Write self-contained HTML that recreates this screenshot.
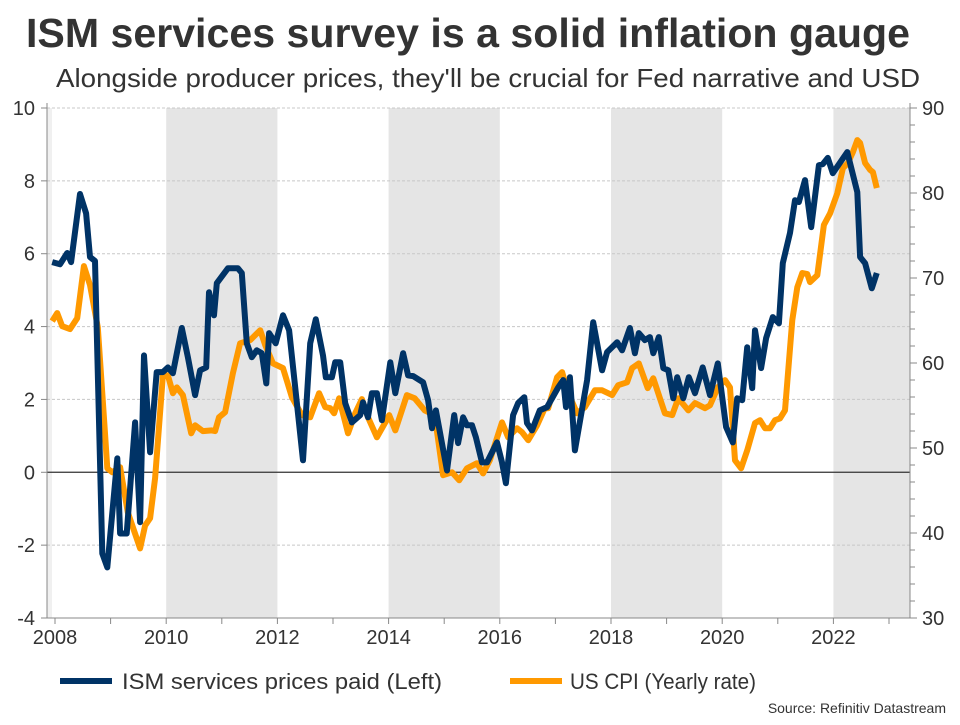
<!DOCTYPE html>
<html><head><meta charset="utf-8"><style>
body{margin:0;background:#fff;}
svg text{font-family:"Liberation Sans",sans-serif;}
</style></head><body>
<svg width="960" height="720" xmlns="http://www.w3.org/2000/svg">
<text x="468" y="47" text-anchor="middle" font-size="41" font-weight="bold" fill="#333" textLength="884" lengthAdjust="spacingAndGlyphs">ISM services survey is a solid inflation gauge</text>
<text x="488" y="87" text-anchor="middle" font-size="26" fill="#333" textLength="864" lengthAdjust="spacingAndGlyphs">Alongside producer prices, they'll be crucial for Fed narrative and USD</text>
<g id="bands"></g><g id="grid"></g><g id="axes"></g>
<g id="series" clip-path="url(#clip)"></g>
<defs><clipPath id="clip"><rect x="47" y="100" width="863" height="518"/></clipPath></defs>
<g>
<line x1="60" y1="681" x2="112" y2="681" stroke="#003366" stroke-width="6"/>
<text x="122" y="689" font-size="22" fill="#333" textLength="320" lengthAdjust="spacingAndGlyphs">ISM services prices paid (Left)</text>
<line x1="510" y1="681" x2="562" y2="681" stroke="#ff9900" stroke-width="6"/>
<text x="570" y="689" font-size="22" fill="#333" textLength="186" lengthAdjust="spacingAndGlyphs">US CPI (Yearly rate)</text>
</g>
<text x="946" y="713" text-anchor="end" font-size="14" fill="#333">Source: Refinitiv Datastream</text>
</svg>
<script>
const xTicks=[2008,2010,2012,2014,2016,2018,2020,2022];
const yLeftTicks=[-4,-2,0,2,4,6,8,10];
const yRightTicks=[30,40,50,60,70,80,90];
const bandStarts=[2010,2014,2018,2022];
const ismDates=[2007.95,2008.09,2008.22,2008.29,2008.45,2008.56,2008.63,2008.72,2008.85,2008.94,2009.12,2009.17,2009.29,2009.44,2009.53,2009.60,2009.71,2009.83,2009.94,2010.03,2010.12,2010.28,2010.39,2010.52,2010.61,2010.72,2010.77,2010.86,2010.91,2011.11,2011.29,2011.36,2011.45,2011.54,2011.63,2011.72,2011.80,2011.85,2011.97,2012.10,2012.21,2012.46,2012.59,2012.69,2012.82,2012.87,2012.98,2013.04,2013.13,2013.22,2013.34,2013.49,2013.54,2013.63,2013.70,2013.79,2013.88,2014.03,2014.12,2014.26,2014.35,2014.44,2014.62,2014.71,2014.78,2014.85,2015.05,2015.18,2015.25,2015.34,2015.41,2015.50,2015.57,2015.68,2015.77,2015.95,2016.04,2016.11,2016.24,2016.33,2016.44,2016.49,2016.58,2016.72,2016.85,2017.05,2017.14,2017.19,2017.26,2017.35,2017.57,2017.68,2017.84,2017.93,2018.11,2018.20,2018.34,2018.43,2018.50,2018.61,2018.70,2018.76,2018.86,2018.94,2019.03,2019.12,2019.19,2019.30,2019.40,2019.51,2019.65,2019.78,2019.92,2020.07,2020.19,2020.27,2020.36,2020.45,2020.54,2020.59,2020.70,2020.79,2020.91,2021.02,2021.09,2021.22,2021.31,2021.38,2021.49,2021.60,2021.74,2021.81,2021.90,2021.99,2022.25,2022.43,2022.48,2022.57,2022.69,2022.78];
const ismValues=[5.77,5.71,6.02,5.77,7.64,7.11,5.91,5.80,-2.23,-2.61,0.38,-1.68,-1.68,1.37,-1.37,3.21,0.55,2.75,2.75,2.88,2.72,3.96,3.16,2.12,2.80,2.88,4.94,4.31,5.19,5.60,5.60,5.47,3.54,3.16,3.35,3.27,2.44,3.82,3.54,4.31,3.90,0.33,3.54,4.20,3.21,2.61,2.61,3.02,3.02,1.90,1.37,1.57,1.92,1.51,2.17,2.17,1.43,3.02,2.17,3.27,2.66,2.64,2.47,1.98,1.21,1.70,0.05,1.57,0.80,1.51,1.29,1.29,0.96,0.27,0.27,0.82,0.27,-0.30,1.57,1.90,2.06,1.35,1.15,1.70,1.79,2.33,2.53,1.79,2.61,0.60,2.53,4.12,2.80,3.30,3.57,3.35,3.96,3.27,3.82,3.63,3.71,3.27,3.71,2.86,2.80,2.03,2.61,2.03,2.61,2.17,2.88,2.12,2.99,1.24,0.82,2.03,1.98,3.43,2.31,3.90,2.86,3.68,4.26,4.09,5.74,6.57,7.47,7.42,8.02,6.73,8.43,8.46,8.63,8.21,8.79,7.69,5.91,5.74,5.05,5.47];
const cpiDates=[2007.95,2008.04,2008.13,2008.27,2008.40,2008.52,2008.63,2008.77,2008.90,2008.94,2009.03,2009.17,2009.31,2009.53,2009.62,2009.71,2009.80,2009.94,2010.03,2010.12,2010.19,2010.30,2010.45,2010.52,2010.66,2010.82,2010.88,2010.95,2011.06,2011.20,2011.33,2011.51,2011.69,2011.78,2011.92,2012.10,2012.26,2012.44,2012.59,2012.75,2012.86,2012.95,2013.02,2013.11,2013.27,2013.40,2013.52,2013.63,2013.79,2013.94,2014.01,2014.12,2014.33,2014.47,2014.65,2014.83,2014.98,2015.14,2015.27,2015.41,2015.59,2015.70,2015.82,2016.04,2016.15,2016.31,2016.40,2016.51,2016.67,2016.81,2016.87,2017.03,2017.12,2017.21,2017.39,2017.53,2017.71,2017.84,2018.02,2018.13,2018.29,2018.38,2018.50,2018.66,2018.76,2018.97,2019.10,2019.21,2019.39,2019.51,2019.69,2019.78,2019.92,2020.05,2020.14,2020.23,2020.34,2020.45,2020.59,2020.68,2020.77,2020.86,2020.95,2021.04,2021.13,2021.26,2021.35,2021.44,2021.53,2021.58,2021.71,2021.83,2021.94,2022.07,2022.17,2022.26,2022.35,2022.43,2022.48,2022.57,2022.66,2022.71,2022.78];
const cpiValues=[4.15,4.37,4.01,3.93,4.23,5.66,5.14,3.98,1.07,0.11,0.00,0.14,-1.10,-2.09,-1.46,-1.26,-0.16,2.66,2.66,2.17,2.33,2.12,1.07,1.29,1.13,1.15,1.13,1.51,1.65,2.72,3.54,3.63,3.90,3.49,2.99,2.86,2.06,1.57,1.51,2.17,1.79,1.76,1.62,2.03,1.07,1.62,2.01,1.51,0.96,1.37,1.57,1.15,2.12,2.03,1.70,1.57,-0.08,0.00,-0.22,0.11,0.25,-0.03,0.33,1.37,0.96,1.21,1.10,0.88,1.29,1.76,1.76,2.61,2.75,2.25,1.62,1.79,2.25,2.25,2.12,2.39,2.47,2.86,2.99,2.31,2.58,1.62,1.57,2.03,1.70,1.90,1.76,1.84,2.33,2.53,2.33,0.33,0.11,0.60,1.35,1.43,1.21,1.21,1.43,1.48,1.70,4.18,5.08,5.47,5.44,5.22,5.41,6.79,7.11,7.66,8.35,8.49,8.79,9.12,9.04,8.49,8.30,8.24,7.80];

const L=47,R=910,T=108,B=618;
const xs=t=>55+(t-2008)*55.6;
const yl=v=>T+(10-v)*(B-T)/14;
const yr=v=>T+(90-v)*(B-T)/60;
const NS="http://www.w3.org/2000/svg";
function mk(tag,attrs,parent){const e=document.createElementNS(NS,tag);for(const k in attrs)e.setAttribute(k,attrs[k]);parent.appendChild(e);return e;}
const bands=document.getElementById('bands'),grid=document.getElementById('grid'),axes=document.getElementById('axes'),series=document.getElementById('series');
mk('rect',{x:L,y:T,width:5,height:B-T,fill:'#f0f0f0'},bands);
bandStarts.forEach(s=>{
  const x1=xs(s),x2=Math.min(xs(s+2),R);
  const r=mk('rect',{x:x1,y:T,width:x2-x1,height:B-T,fill:'#e5e5e5'},bands);
  
  
});
yLeftTicks.forEach(v=>{
  const y=yl(v);
  if(v!==0&&v!==-4){const g=mk('line',{x1:L,x2:R,y1:y,y2:y,stroke:'#c8c8c8','stroke-dasharray':'3,2','stroke-width':1},grid);
  
  }
  mk('line',{x1:L-6,x2:L,y1:y,y2:y,stroke:'#888'},axes);
  const t=mk('text',{x:35,y:y+7,'text-anchor':'end','font-size':20,fill:'#333'},axes);t.textContent=v;
  
  
});
for(let v=30;v<=90;v+=2){const y=yr(v);mk('line',{x1:R,x2:R+(v%10===0?7:5),y1:y,y2:y,stroke:'#888'},axes);}
yRightTicks.forEach(v=>{
  const t=mk('text',{x:922,y:yr(v)+7,'font-size':20,fill:'#333'},axes);t.textContent=v;
  
  
});
const z=mk('line',{x1:L,x2:R,y1:yl(0),y2:yl(0),stroke:'#333','stroke-width':1.2},axes);


mk('line',{x1:L,x2:L,y1:T-5,y2:B,stroke:'#888'},axes);
mk('line',{x1:R,x2:R,y1:T-5,y2:B,stroke:'#888'},axes);
mk('line',{x1:L,x2:R,y1:B,y2:B,stroke:'#888'},axes);
for(let yr0=2008;yr0<=2023;yr0++){const x=xs(yr0);mk('line',{x1:x,x2:x,y1:B,y2:B+6,stroke:'#888'},axes);}
xTicks.forEach(v=>{
  const t=mk('text',{x:xs(v),y:B+26,'text-anchor':'middle','font-size':20,fill:'#333'},axes);t.textContent=v;
  
  
});
function line(d,v,col,name){
  const pts=d.map((t,i)=>xs(t).toFixed(1)+','+yl(v[i]).toFixed(1)).join(' ');
  const p=mk('polyline',{points:pts,fill:'none',stroke:col,'stroke-width':6,'stroke-linejoin':'round'},series);
  
  
}
line(cpiDates,cpiValues,'#ff9900','cpi-line');
line(ismDates,ismValues,'#003366','ism-line');
</script>
</body></html>
